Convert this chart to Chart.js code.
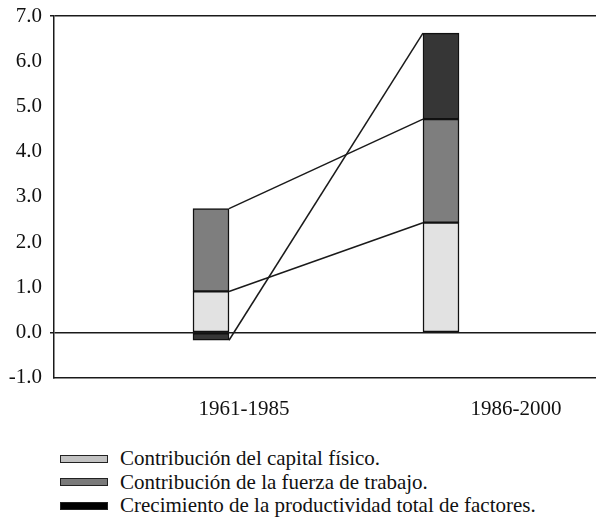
<!DOCTYPE html>
<html>
<head>
<meta charset="utf-8">
<script src="https://cdn.jsdelivr.net/npm/chart.js@4.4.1/dist/chart.umd.min.js"></script>
<style>
    body { margin: 0; background: #fff; }
    #contenedor { position: relative; width: 596px; height: 517px; }
    #grafico { position: absolute; left: 0; top: 0; width: 596px; height: 433px; }
    #leyenda { position: absolute; left: 60px; top: 447px; font-family: "Liberation Serif", serif; font-size: 21px; color: #111; }
    .fila { display: flex; align-items: center; height: 23.5px; }
    .caja { width: 46px; height: 6px; border: 1px solid #222; margin-right: 12px; }
</style>
</head>
<body>
<div id="contenedor">
    <div id="grafico"><canvas id="lienzo"></canvas></div>
    <div id="leyenda"></div>
</div>
<script>
    //datos
    const periodos = ['1961-1985', '1986-2000'];
    const capitalFisico = [0.91, 2.43];
    const fuerzaTrabajo = [1.83, 2.29];
    const productividad = [-0.17, 1.90];
    const nombres = [
        'Contribución del capital físico.',
        'Contribución de la fuerza de trabajo.',
        'Crecimiento de la productividad total de factores.'
    ];
    const ticksY = [-1, 0, 1, 2, 3, 4, 5, 6, 7];

    const coloresBarra = ['#e2e2e2', '#7e7e7e', '#363636'];
    const coloresLeyenda = ['#c2c2c2', '#7a7a7a', '#000000'];

    const fuente = { family: '"Liberation Serif", "Times New Roman", serif', size: 21 };

    //lineas de serie entre las barras
    const lineasSerie = {
        id: 'lineasSerie',
        afterDatasetsDraw(chart) {
            const ctx = chart.ctx;
            ctx.save();
            ctx.strokeStyle = '#1a1a1a';
            ctx.lineWidth = 1.5;
            chart.data.datasets.forEach((ds, i) => {
                const meta = chart.getDatasetMeta(i);
                const a = meta.data[0];
                const b = meta.data[1];
                ctx.beginPath();
                ctx.moveTo(a.x + a.width / 2, a.y);
                ctx.lineTo(b.x - b.width / 2, b.y);
                ctx.stroke();
            });
            ctx.restore();
        }
    };

    const series = [capitalFisico, fuerzaTrabajo, productividad];
    const datasets = series.map((valores, i) => ({
        label: nombres[i],
        data: valores.map((v, j) => ({ x: j, y: v })),
        backgroundColor: coloresBarra[i],
        borderColor: '#111',
        borderWidth: 1.5,
        borderSkipped: false,
        barThickness: 36
    }));

    const lineaNegra = (ctx) => (ctx.tick && (ctx.tick.value === 0 || ctx.tick.value === 7)) ? '#1a1a1a' : 'rgba(0,0,0,0)';

    new Chart(document.getElementById('lienzo'), {
        type: 'bar',
        data: { datasets: datasets },
        options: {
            responsive: true,
            maintainAspectRatio: false,
            animation: false,
            layout: { padding: 0 },
            plugins: { legend: { display: false }, tooltip: { enabled: false } },
            scales: {
                x: {
                    type: 'linear',
                    stacked: true,
                    display: false,
                    offset: false,
                    min: -0.6826,
                    max: 1.6739
                },
                xEtiq: {
                    type: 'linear',
                    position: 'bottom',
                    offset: false,
                    min: -0.6985,
                    max: 1.2941,
                    afterBuildTicks: (s) => { s.ticks = periodos.map((p, i) => ({ value: i })); },
                    grid: { display: false },
                    border: { display: true, color: '#1a1a1a', width: 1.5 },
                    ticks: {
                        callback: (v) => periodos[v],
                        font: fuente,
                        color: '#111',
                        padding: 11,
                        maxRotation: 0,
                        autoSkip: false
                    }
                },
                y: {
                    stacked: true,
                    min: -1,
                    max: 7,
                    afterBuildTicks: (s) => { s.ticks = ticksY.map(v => ({ value: v })); },
                    afterFit: (s) => { s.width = 54; s.paddingTop = 16; },
                    grid: {
                        color: lineaNegra,
                        tickColor: lineaNegra,
                        lineWidth: 1.5,
                        tickLength: 4
                    },
                    border: { display: true, color: '#1a1a1a', width: 1.5 },
                    ticks: {
                        callback: (v) => v.toFixed(1),
                        font: fuente,
                        color: '#111',
                        padding: 8
                    }
                }
            }
        },
        plugins: [lineasSerie]
    });

    //leyenda
    const leyenda = document.getElementById('leyenda');
    nombres.forEach((nombre, i) => {
        const fila = document.createElement('div');
        fila.className = 'fila';
        const caja = document.createElement('span');
        caja.className = 'caja';
        caja.style.background = coloresLeyenda[i];
        const texto = document.createElement('span');
        texto.textContent = nombre;
        fila.appendChild(caja);
        fila.appendChild(texto);
        leyenda.appendChild(fila);
    });
</script>
</body>
</html>
